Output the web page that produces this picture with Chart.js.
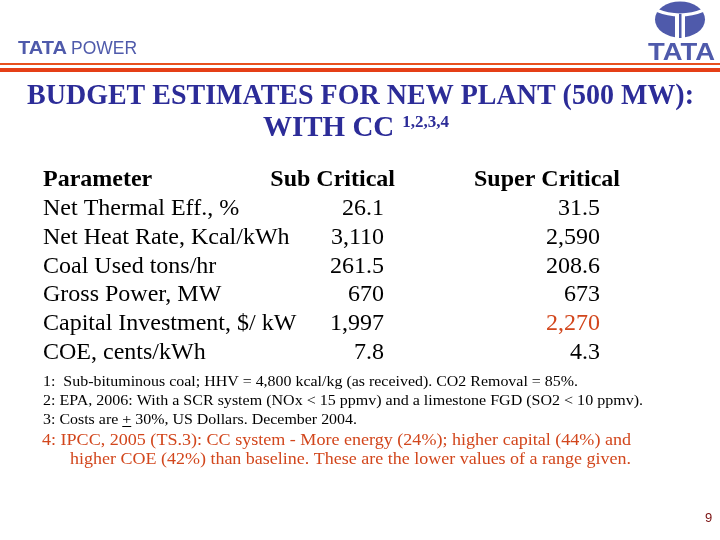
<!DOCTYPE html>
<html>
<head>
<meta charset="utf-8">
<script src="https://cdn.jsdelivr.net/npm/chart.js@4/dist/chart.umd.min.js"></script>
<style>
  body { margin: 0; background: #fff; }
  #wrap { width: 720px; height: 540px; }
</style>
</head>
<body>
<div id="wrap"><canvas id="myChart" width="720" height="540"></canvas></div>
<script>
// table data
const columns = ['Parameter', 'Sub Critical', 'Super Critical'];
const parameters = ['Net Thermal Eff., %', 'Net Heat Rate, Kcal/kWh', 'Coal Used tons/hr',
  'Gross Power, MW', 'Capital Investment, $/ kW', 'COE, cents/kWh'];
const subCritical = [26.1, 3110, 261.5, 670, 1997, 7.8];
const superCritical = [31.5, 2590, 208.6, 673, 2270, 4.3];

const titleLines = ['BUDGET ESTIMATES FOR NEW PLANT (500 MW):', 'WITH CC'];
const titleSup = '1,2,3,4';
const notes = [
  '1:  Sub-bituminous coal; HHV = 4,800 kcal/kg (as received). CO2 Removal = 85%.',
  '2: EPA, 2006: With a SCR system (NOx < 15 ppmv) and a limestone FGD (SO2 < 10 ppmv).',
  '3: Costs are + 30%, US Dollars. December 2004.'
];
const ipccNote = ['4: IPCC, 2005 (TS.3): CC system - More energy (24%); higher capital (44%) and',
  'higher COE (42%) than baseline. These are the lower values of a range given.'];
const pageNo = '9';

const blue = '#2c2c98', logoBlue = '#4f5aab', red = '#d2461c';
const serif = '"Liberation Serif", "Times New Roman", serif';
// per column: text anchor offset from the scale position, and alignment
const colStyle = [
  { dx: -77, headDx: -77, align: 'left', headAlign: 'left' },
  { dx: 24, headDx: 35, align: 'right', headAlign: 'right' },
  { dx: 0, headDx: 20, align: 'right', headAlign: 'right' }
];
const highlight = { col: 2, row: 4 };

const fmt = v => v.toLocaleString('en-US', { maximumFractionDigits: 1 });

function fitText(ctx, text, x, y, w) {
  let m = ctx.measureText(text).width;
  ctx.save();
  ctx.translate(x, y);
  ctx.scale(w / m, 1);
  ctx.fillText(text, 0, 0);
  ctx.restore();
}

const slidePlugin = {
  id: 'slide',
  beforeDraw(chart) {
    let ctx = chart.ctx;
    ctx.save();
    ctx.fillStyle = '#fff';
    ctx.fillRect(0, 0, chart.width, chart.height);
    ctx.restore();
  },
  afterDraw(chart) {
    let ctx = chart.ctx;
    ctx.save();
    // header logos
    ctx.fillStyle = logoBlue;
    ctx.textAlign = 'left';
    ctx.textBaseline = 'alphabetic';
    ctx.font = 'bold 19px "Liberation Sans", Arial, sans-serif';
    fitText(ctx, 'TATA', 18, 54, 49);
    ctx.font = '19px "Liberation Sans", Arial, sans-serif';
    fitText(ctx, 'POWER', 71, 54, 66);
    ctx.font = 'bold 24px "Liberation Sans", Arial, sans-serif';
    fitText(ctx, 'TATA', 648, 60, 67);
    // emblem
    ctx.beginPath();
    ctx.ellipse(680, 19.5, 25, 18, 0, 0, Math.PI * 2);
    ctx.fill();
    ctx.strokeStyle = '#fff';
    ctx.lineWidth = 3;
    ctx.beginPath();
    ctx.moveTo(656, 10);
    ctx.quadraticCurveTo(680, 20, 704, 10);
    ctx.stroke();
    ctx.fillStyle = '#fff';
    ctx.fillRect(675, 15, 10, 24);
    ctx.fillStyle = logoBlue;
    ctx.fillRect(679, 14, 2.5, 24);
    // double rule
    ctx.fillStyle = '#e8501e';
    ctx.fillRect(0, 63, 720, 2);
    ctx.fillStyle = '#e53f16';
    ctx.fillRect(0, 68, 720, 4);

    // title
    ctx.fillStyle = blue;
    ctx.font = 'bold 29px ' + serif;
    fitText(ctx, titleLines[0], 27, 104, 667);
    let w1 = ctx.measureText(titleLines[1]).width;
    ctx.font = 'bold 17px ' + serif;
    let w2 = ctx.measureText(titleSup).width;
    let x0 = 356 - (w1 + 8 + w2) / 2;
    ctx.font = 'bold 29px ' + serif;
    ctx.fillText(titleLines[1], x0, 136);
    ctx.font = 'bold 17px ' + serif;
    ctx.fillText(titleSup, x0 + w1 + 8, 127);

    // table, positioned through the chart scales
    let ys = chart.scales.y, xs = chart.scales.x;
    ctx.fillStyle = '#000';
    ctx.font = 'bold 24px ' + serif;
    columns.forEach((c, i) => {
      ctx.textAlign = colStyle[i].headAlign;
      ctx.fillText(c, xs.getPixelForValue(i) + colStyle[i].headDx, ys.getPixelForValue(0) + 8);
    });
    ctx.font = '24px ' + serif;
    chart.data.datasets.forEach((ds, d) => {
      let meta = chart.getDatasetMeta(d);
      ctx.textAlign = colStyle[d].align;
      meta.data.forEach((pt, i) => {
        ctx.fillStyle = (highlight.col === d && highlight.row === i) ? red : '#000';
        ctx.fillText(ds.texts[i], pt.x + colStyle[d].dx, pt.y + 8);
      });
    });

    // footnotes
    ctx.textAlign = 'left';
    ctx.fillStyle = '#000';
    ctx.font = '15px ' + serif;
    notes.forEach((n, i) => {
      fitText(ctx, n, 43, 386 + i * 19, [535, 600, 314][i]);
    });
    // underline the plus sign (plus/minus)
    let k = 314 / ctx.measureText(notes[2]).width;
    let pre = ctx.measureText('3: Costs are ').width * k;
    let pw = ctx.measureText('+').width * k;
    ctx.fillRect(43 + pre, 426, pw, 1);
    ctx.fillStyle = red;
    ctx.font = '17px ' + serif;
    fitText(ctx, ipccNote[0], 42, 445, 589);
    fitText(ctx, ipccNote[1], 70, 464, 561);

    ctx.fillStyle = '#7a1010';
    ctx.font = '13px "Liberation Sans", Arial, sans-serif';
    ctx.fillText(pageNo, 705, 522);
    ctx.restore();
  }
};

let mychart = document.getElementById('myChart').getContext('2d');
let chart = new Chart(mychart, {
  type: 'scatter',
  data: {
    datasets: [
      { label: columns[0], texts: parameters, data: parameters.map((p, i) => ({ x: columns[0], y: i + 1 })) },
      { label: columns[1], texts: subCritical.map(fmt), data: subCritical.map((v, i) => ({ x: columns[1], y: i + 1 })) },
      { label: columns[2], texts: superCritical.map(fmt), data: superCritical.map((v, i) => ({ x: columns[2], y: i + 1 })) }
    ]
  },
  options: {
    responsive: false,
    animation: false,
    devicePixelRatio: 1,
    layout: { padding: { top: 164, bottom: 175, left: 0, right: 0 } },
    elements: { point: { radius: 0, hoverRadius: 0 } },
    plugins: { legend: { display: false }, tooltip: { enabled: false } },
    scales: {
      x: { type: 'category', labels: columns, offset: true, display: false },
      y: { type: 'linear', min: -0.5, max: 6.5, reverse: true, display: false }
    }
  },
  plugins: [slidePlugin]
});
</script>
</body>
</html>
